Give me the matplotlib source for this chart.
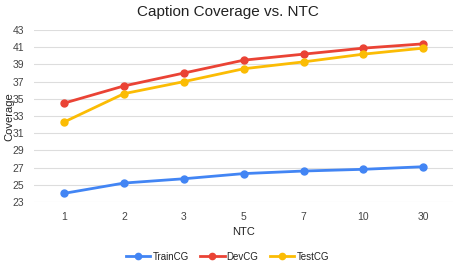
import matplotlib
matplotlib.use('Agg')
import matplotlib.pyplot as plt

plt.rcParams['font.family'] = ['Liberation Sans', 'DejaVu Sans']

ntc = ['1', '2', '3', '5', '7', '10', '30']
train_cg = [24.0, 25.2, 25.7, 26.3, 26.6, 26.8, 27.1]
dev_cg = [34.5, 36.5, 38.0, 39.5, 40.2, 40.9, 41.4]
test_cg = [32.3, 35.6, 37.0, 38.5, 39.3, 40.2, 40.9]

fig = plt.figure(figsize=(4.55, 2.64), dpi=100)
ax = fig.add_axes([0.075, 0.235, 0.921, 0.651])

x = range(len(ntc))
ax.plot(x, train_cg, color='#4285F4', lw=2, marker='o', ms=5, label='TrainCG')
ax.plot(x, dev_cg, color='#EA4335', lw=2, marker='o', ms=5, label='DevCG')
ax.plot(x, test_cg, color='#FBBC04', lw=2, marker='o', ms=5, label='TestCG')

ax.set_xlim(-0.5, len(ntc) - 0.5)
ax.set_ylim(23, 43)
ax.set_yticks(range(23, 44, 2))
ax.set_xticks(list(x))
ax.set_xticklabels(ntc)
ax.tick_params(length=0, labelsize=7.5, colors='#444444', pad=7)
ax.grid(axis='y', color='#dddddd', lw=0.8)
ax.set_axisbelow(True)
for s in ax.spines.values():
    s.set_visible(False)

ax.set_xlabel('NTC', fontsize=8, color='#222222', labelpad=4)
fig.text(0.02, 0.56, 'Coverage', rotation=90, ha='center', va='center',
         fontsize=8, color='#222222')
fig.text(0.5, 0.955, 'Caption Coverage vs. NTC', ha='center', va='center',
         fontsize=11, color='#222222')
fig.legend(loc='center', bbox_to_anchor=(0.5, 0.028), ncol=3, frameon=False,
           fontsize=7, handlelength=2.5, handletextpad=0.2, columnspacing=1.2,
           labelcolor='#222222', markerscale=0.9)

fig.savefig('out.png', dpi=100)
